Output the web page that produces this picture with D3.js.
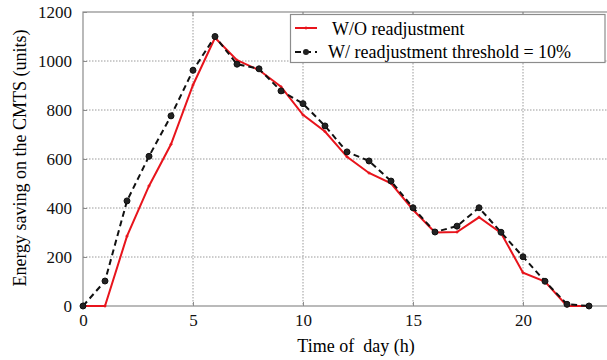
<!DOCTYPE html>
<html>
<head>
<meta charset="utf-8">
<script src="https://cdn.jsdelivr.net/npm/d3@7"></script>
<style>
  body { margin: 0; background: #fff; }
  svg text { font-family: "Liberation Serif", "Times New Roman", Times, serif !important; }
</style>
</head>
<body>
<div class="chart"></div>
<script>
// data
const hours = [0, 1, 2, 3, 4, 5, 6, 7, 8, 9, 10, 11, 12, 13, 14, 15, 16, 17, 18, 19, 20, 21, 22, 23];
const withoutReadj = [0, 0, 285, 490, 660, 902, 1095, 1003, 963, 895, 780, 712, 609, 543, 501, 393, 300, 302, 362, 298, 136, 100, 0, 0];
const withReadj = [0, 102, 429, 611, 776, 962, 1100, 987, 968, 878, 826, 735, 629, 592, 510, 401, 302, 326, 401, 301, 201, 101, 7, 0];
const xTicks = [0, 5, 10, 15, 20];
const yTicks = [0, 200, 400, 600, 800, 1000, 1200];
const legendLabels = ['W/O readjustment', 'W/ readjustment threshold = 10%'];

const margin = ({top: 12, right: -4, bottom: 54, left: 83});
const W = 607, H = 360;
const width = W - margin.left - margin.right;
const height = H - margin.top - margin.bottom;

const svg = d3.select('.chart')
  .append('svg')
  .attr('width', W)
  .attr('height', H)
  .style('display', 'block');

const g = svg.append('g')
  .attr('transform', 'translate(' + margin.left + ',' + margin.top + ')');

const xScale = d3.scaleLinear().domain([0, 24]).range([0, width]);
const yScale = d3.scaleLinear().domain([0, 1200]).range([height, 0]);

const frameCol = '#8c8c8c';
const gridCol = '#9a9a9a';

// grid
g.append('g').selectAll('line')
  .data(xTicks.filter(d => d > 0))
  .enter().append('line')
  .attr('x1', d => xScale(d)).attr('x2', d => xScale(d))
  .attr('y1', 0).attr('y2', height)
  .attr('stroke', gridCol).attr('stroke-width', 1)
  .attr('stroke-dasharray', '1.5,1.5');

g.append('g').selectAll('line')
  .data(yTicks.filter(d => d > 0 && d < 1200))
  .enter().append('line')
  .attr('x1', 0).attr('x2', width)
  .attr('y1', d => yScale(d)).attr('y2', d => yScale(d))
  .attr('stroke', gridCol).attr('stroke-width', 1)
  .attr('stroke-dasharray', '1.5,1.5');

// frame
g.append('rect')
  .attr('x', 0).attr('y', 0)
  .attr('width', width).attr('height', height)
  .attr('fill', 'none')
  .attr('stroke', frameCol).attr('stroke-width', 1.2);

// axes
const xAxis = d3.axisBottom(xScale).tickValues(xTicks).tickFormat(d3.format('d')).tickSize(-4).tickPadding(8);
const yAxis = d3.axisLeft(yScale).tickValues(yTicks).tickFormat(d3.format('d')).tickSize(-4).tickPadding(11);

const gx = g.append('g')
  .attr('class', 'axis x-axis')
  .attr('transform', 'translate(0,' + height + ')')
  .call(xAxis);
const gy = g.append('g')
  .attr('class', 'axis y-axis')
  .call(yAxis);

[gx, gy].forEach(a => {
  a.attr('font-family', null).attr('font-size', null);
  a.select('.domain').remove();
  a.selectAll('line').attr('stroke', frameCol);
  a.selectAll('text').attr('font-size', 17).attr('fill', '#111');
});

// top ticks
g.append('g').selectAll('line')
  .data(xTicks.filter(d => d > 0))
  .enter().append('line')
  .attr('x1', d => xScale(d)).attr('x2', d => xScale(d))
  .attr('y1', 0).attr('y2', 4)
  .attr('stroke', frameCol);

// series
const line = d3.line()
  .x((d, i) => xScale(hours[i]))
  .y(d => yScale(d));

g.append('path')
  .datum(withoutReadj)
  .attr('d', line)
  .attr('fill', 'none')
  .attr('stroke', '#e8141c')
  .attr('stroke-width', 2);

g.append('g').selectAll('path')
  .data(withoutReadj)
  .enter().append('path')
  .attr('d', (d, i) => {
    const x = xScale(hours[i]), y = yScale(d);
    return 'M' + (x - 1.5) + ',' + y + 'H' + (x + 1.5) + 'M' + x + ',' + (y - 1.5) + 'V' + (y + 1.5);
  })
  .attr('stroke', '#e8141c').attr('stroke-width', 1.2);

g.append('path')
  .datum(withReadj)
  .attr('d', line)
  .attr('fill', 'none')
  .attr('stroke', '#111')
  .attr('stroke-width', 2)
  .attr('stroke-dasharray', '6,4');

g.append('g').selectAll('circle')
  .data(withReadj)
  .enter().append('circle')
  .attr('cx', (d, i) => xScale(hours[i]))
  .attr('cy', d => yScale(d))
  .attr('r', 3)
  .attr('fill', '#222')
  .attr('stroke', '#111')
  .attr('stroke-width', 1);

// legend
const lg = svg.append('g');
lg.append('rect')
  .attr('x', 290.5).attr('y', 14.5)
  .attr('width', 314.5).attr('height', 48)
  .attr('fill', '#fff')
  .attr('stroke', frameCol).attr('stroke-width', 1.2);

lg.append('line')
  .attr('x1', 295).attr('x2', 317).attr('y1', 28).attr('y2', 28)
  .attr('stroke', '#e8141c').attr('stroke-width', 2);
lg.append('path')
  .attr('d', 'M304.5,28H307.5M306,26.5V29.5')
  .attr('stroke', '#e8141c').attr('stroke-width', 1.2);

lg.append('line')
  .attr('x1', 295).attr('x2', 317).attr('y1', 52).attr('y2', 52)
  .attr('stroke', '#111').attr('stroke-width', 2)
  .attr('stroke-dasharray', '6,4');
lg.append('circle')
  .attr('cx', 306).attr('cy', 52).attr('r', 3)
  .attr('fill', '#222');

lg.append('text')
  .attr('x', 332).attr('y', 35)
  .attr('font-size', 18)
  .text(legendLabels[0]);
lg.append('text')
  .attr('x', 328).attr('y', 58)
  .attr('font-size', 18)
  .text(legendLabels[1]);

// axis titles
svg.append('text')
  .attr('x', 356).attr('y', 352)
  .attr('text-anchor', 'middle')
  .attr('font-size', 18)
  .style('white-space', 'pre')
  .text('Time of  day (h)');

svg.append('text')
  .attr('transform', 'translate(26,158) rotate(-90)')
  .attr('text-anchor', 'middle')
  .attr('font-size', 18)
  .text('Energy saving on the CMTS (units)');
</script>
</body>
</html>
